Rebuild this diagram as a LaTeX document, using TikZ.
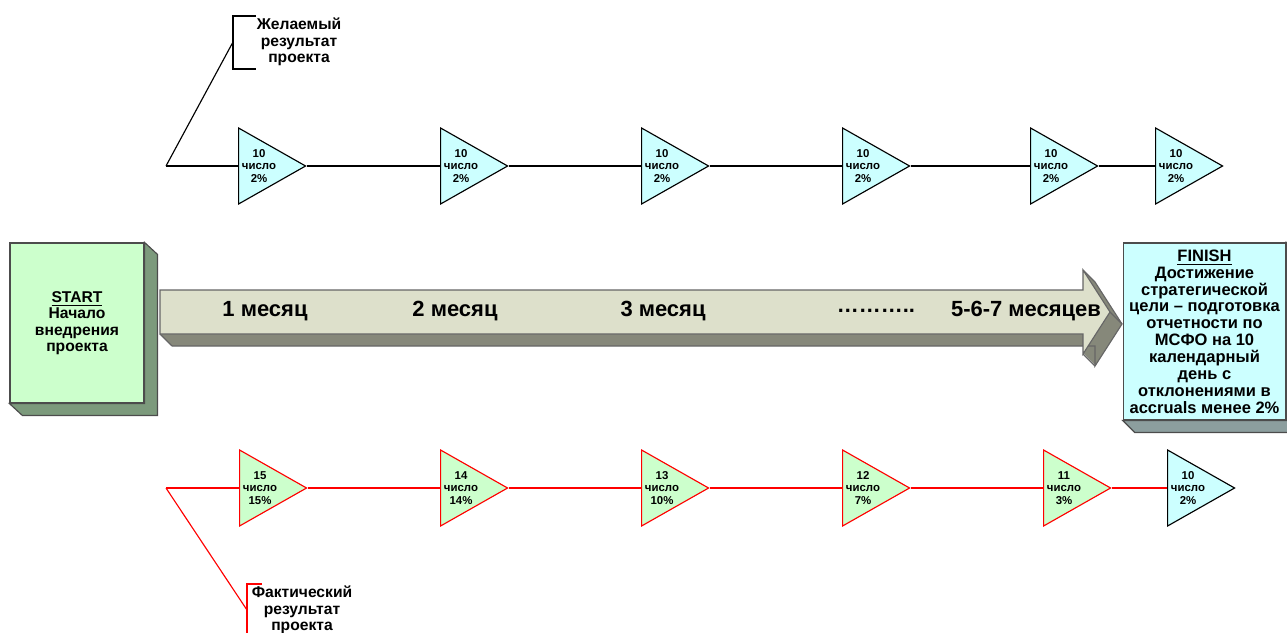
\documentclass[tikz,border=0pt]{standalone}
\usepackage{fontspec}
\setmainfont{Liberation Sans}
\usetikzlibrary{shapes.geometric}
\definecolor{planfill}{HTML}{CCFFFF}
\definecolor{factfill}{HTML}{CCFFCC}
\definecolor{startside}{HTML}{7C9A7C}
\definecolor{finishside}{HTML}{8C9E9E}
\definecolor{arrowfill}{HTML}{DDE0CB}
\definecolor{arrowside}{HTML}{86887A}
\begin{document}
\begin{tikzpicture}[x=0.02cm,y=-0.02cm,line width=0.65pt,
  milestone/.style={isosceles triangle,isosceles triangle stretches,shape border rotate=0,
    minimum width=1.52cm,minimum height=1.34cm,inner sep=0pt,anchor=lower side},
  plan/.style={milestone,draw=black,fill=planfill},
  fact/.style={milestone,draw=red,fill=factfill},
  figure/.style={font=\fontsize{6.5}{7.1}\selectfont\bfseries,align=center,inner sep=0pt},
  month/.style={font=\fontsize{12.5}{14}\selectfont\bfseries},
  boxtext/.style={font=\fontsize{8.9}{9.3}\selectfont\bfseries,align=center}]
\useasboundingbox (0,0) rectangle (1287,632);

% start and finish boxes
\node[boxtext,draw=black!70,fill=factfill,minimum width=2.68cm,minimum height=3.2cm] (start) at (77,323)
  {\underline{START}\\Начало\\внедрения\\проекта};
\draw[fill=startside,draw=black!70] (start.north east) -- ++(13,12) -- ([shift={(13,12)}]start.south east)
  -- ([shift={(13,12)}]start.south west) -- (start.south west) -- (start.south east) -- cycle;
\node[boxtext,font=\fontsize{9.4}{9.6}\selectfont\bfseries,draw=black!70,fill=planfill,
  minimum width=3.14cm,minimum height=3.54cm] (finish) at (1204.5,331.5)
  {\underline{FINISH}\\Достижение\\стратегической\\цели – подготовка\\отчетности по\\МСФО на 10\\календарный\\день с\\отклонениями в\\accruals менее 2\%};
\draw[fill=finishside,draw=black!70] (finish.north east) -- ++(12,12) -- ([shift={(12,12)}]finish.south east)
  -- ([shift={(12,12)}]finish.south west) -- (finish.south west) -- (finish.south east) -- cycle;

% time arrow
\foreach \d in {1,...,12}
  \fill[arrowside,shift={(\d,\d)}] (160,290) -- (1083,290) -- (1083,270) -- (1110,312)
    -- (1083,354) -- (1083,334) -- (160,334) -- cycle;
\draw[black!60,shift={(12,12)}] (160,334) -- (1083,334) -- (1083,354) -- (1110,312) -- (1083,270);
\foreach \cx/\cy in {160/334,1083/354,1110/312,1083/270}
  \draw[black!60] (\cx,\cy) -- ++(12,12);
\draw[fill=arrowfill,draw=black!60] (160,290) -- (1083,290) -- (1083,270) -- (1110,312)
  -- (1083,354) -- (1083,334) -- (160,334) -- cycle;
\foreach \x/\t [count=\i] in {265/1 месяц,455/2 месяц,663/3 месяц,876/………..,1026/5-6-7 месяцев}
  \node[month] (m\i) at (\x,311) {\t};

% desired result
\coordinate (planstart) at (166,166);
\coordinate (plancorner) at (233,42);
\foreach \x [count=\i] in {238,440,641,842,1030,1155} {
  \node[plan] (p\i) at (\x,166) {};
  \node[figure] (pt\i) at (\x+21,166) {10\\число\\2\%};
}
\draw (planstart) -- (p1.lower side);
\foreach \i [count=\j from 2] in {1,...,5}
  \draw (p\i.apex) -- (p\j.lower side);
\draw (planstart) -- (plancorner);
\draw (256,16) -- (233,16) -- (233,69) -- (256,69);
\node[boxtext] (plan) at (299,42) {Желаемый\\результат\\проекта};

% actual result
\coordinate (factstart) at (166,488);
\coordinate (factcorner) at (247,610);
\foreach \x/\n/\p [count=\i] in {239/15/15,440/14/14,641/13/10,842/12/7,1043/11/3} {
  \node[fact] (f\i) at (\x,488) {};
  \node[figure] (ft\i) at (\x+21,488) {\n\\число\\\p\%};
}
\node[plan] (f6) at (1167,488) {};
\node[figure] (ft6) at (1188,488) {10\\число\\2\%};
\draw[red] (factstart) -- (f1.lower side);
\foreach \i [count=\j from 2] in {1,...,5}
  \draw[red] (f\i.apex) -- (f\j.lower side);
\draw[red] (factstart) -- (factcorner);
\draw[red] (262,584) -- (247,584) -- (247,640);
\node[boxtext] (fact) at (302,610) {Фактический\\результат\\проекта};
\end{tikzpicture}
\end{document}
